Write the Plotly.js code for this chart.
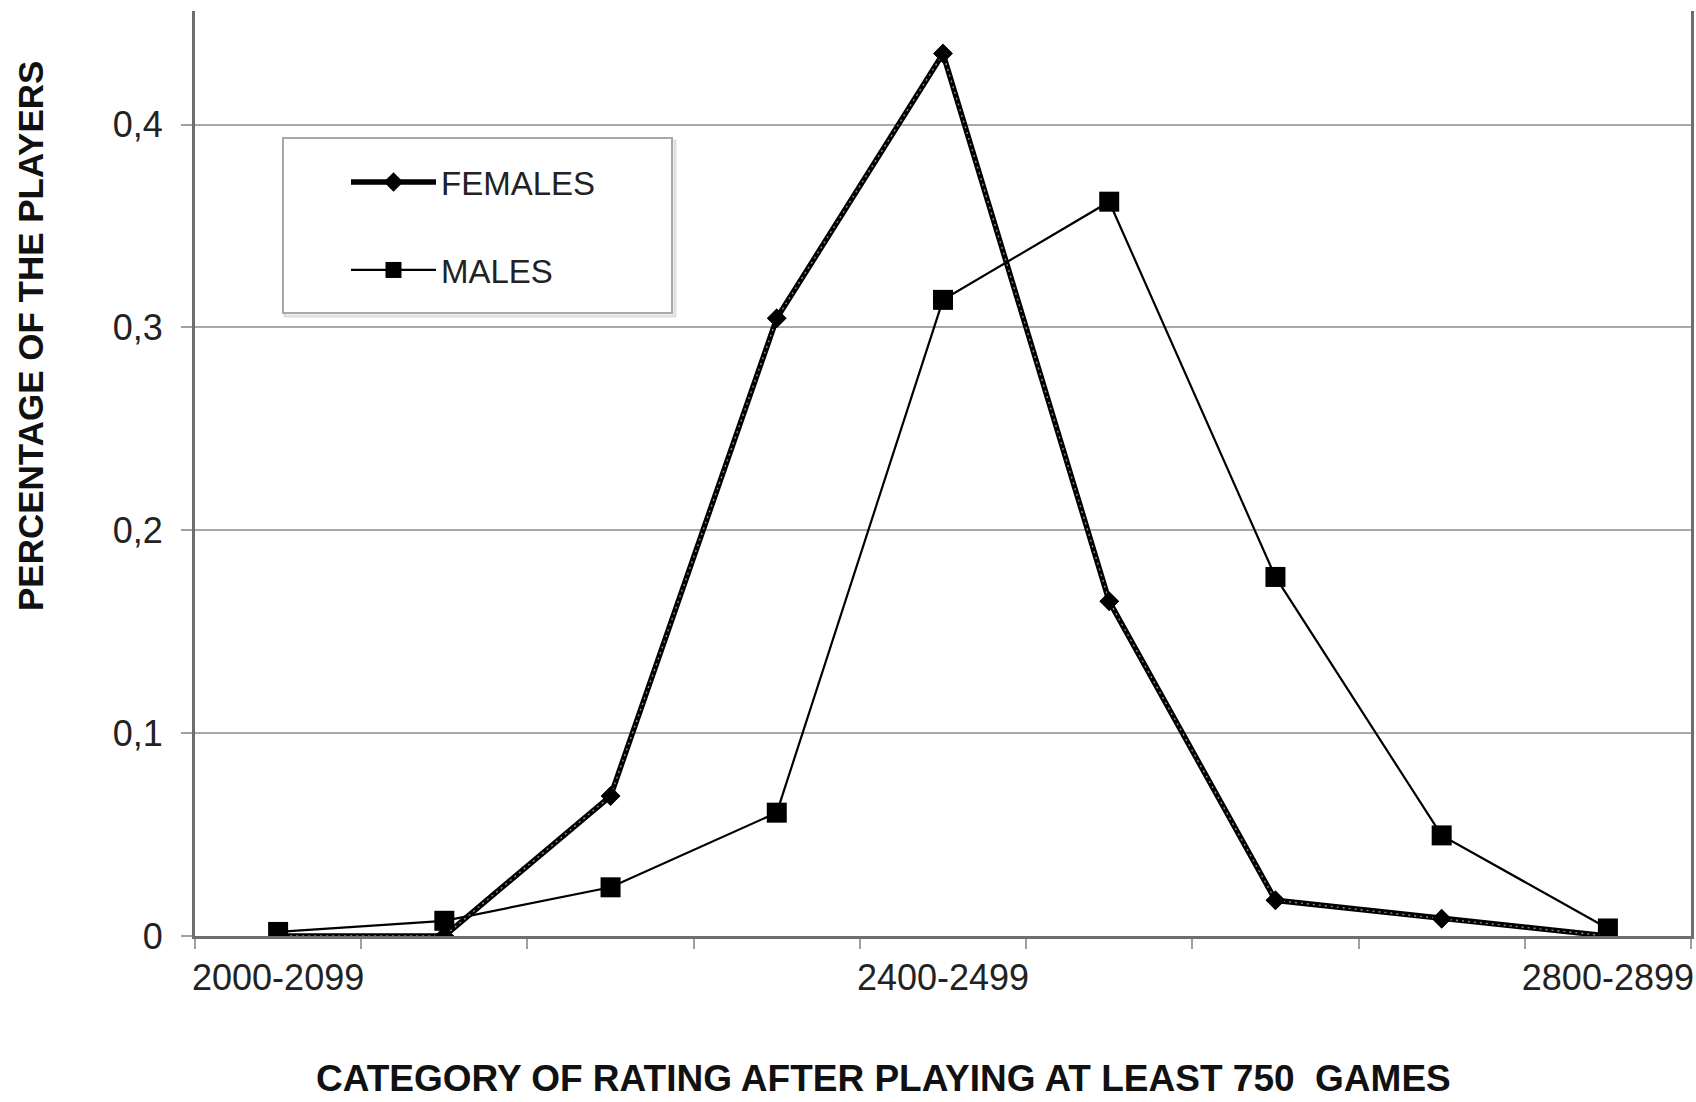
<!DOCTYPE html>
<html>
<head>
<meta charset="utf-8">
<script src="https://cdn.plot.ly/plotly-3.0.1.min.js"></script>
<style>
  html, body { margin: 0; padding: 0; background: #ffffff; }
  #chart { width: 1696px; height: 1102px; }
</style>
</head>
<body>
<div id="chart"></div>
<script>
// ---- data ----
const categories = ['2000-2099','2100-2199','2200-2299','2300-2399','2400-2499','2500-2599','2600-2699','2700-2799','2800-2899'];
const xTickText = ['2000-2099','','','','2400-2499','','','','2800-2899'];
const females = [0, 0, 0.069, 0.3045, 0.435, 0.165, 0.0176, 0.0085, 0];
const males = [0.002, 0.0075, 0.024, 0.0608, 0.3136, 0.362, 0.177, 0.0496, 0.0037];
const yTickVals = [0, 0.1, 0.2, 0.3, 0.4];
const yTickText = ['0', '0,1', '0,2', '0,3', '0,4'];
const seriesNames = ['FEMALES', 'MALES'];
const yTitle = 'PERCENTAGE OF THE PLAYERS';
const xTitle = 'CATEGORY OF RATING AFTER PLAYING AT LEAST 750&nbsp;&nbsp;GAMES';

const FONT = 'Liberation Sans, Arial, Helvetica, sans-serif';

const traces = [
  {
    x: categories, y: males, name: seriesNames[1], type: 'scatter', mode: 'lines+markers',
    line: { color: '#000000', width: 2.2 },
    marker: { symbol: 'square', size: 20, color: '#000000' },
    legend: 'legend2'
  },
  {
    x: categories, y: females, name: seriesNames[0], type: 'scatter', mode: 'lines+markers',
    line: { color: '#000000', width: 5.5 },
    marker: { symbol: 'diamond', size: 15, color: '#000000' },
    legend: 'legend'
  },
  {
    x: categories, y: females, name: seriesNames[0], type: 'scatter', mode: 'lines',
    line: { color: '#8a8a8a', width: 1.4, dash: '2px,4px' },
    showlegend: false, hoverinfo: 'skip'
  },
  {
    x: categories, y: females, name: seriesNames[0], type: 'scatter', mode: 'markers',
    marker: { symbol: 'diamond', size: 15, color: '#000000' },
    showlegend: false, hoverinfo: 'skip'
  }
];

const L = 195, R = 5, T = 11, B = 166;
const W = 1696, H = 1102;
const pw = W - L - R, ph = H - T - B;
const px = v => (v - L) / pw;
const py = v => (H - B - v) / ph;

const layout = {
  width: W, height: H,
  margin: { l: L, r: R, t: T, b: B, pad: 0 },
  paper_bgcolor: '#ffffff', plot_bgcolor: '#ffffff',
  font: { family: FONT, color: '#222222', size: 33 },
  showlegend: true,
  xaxis: {
    type: 'category', range: [-0.5, 8.5],
    tickmode: 'array', tickvals: categories, ticktext: xTickText,
    tickson: 'boundaries', ticks: 'outside', ticklen: 10, tickwidth: 2, tickcolor: '#a0a0a0',
    tickangle: 0, automargin: false,
    showgrid: false, zeroline: false,
    showline: true, linecolor: '#6e6e6e', linewidth: 3,
    tickfont: { family: FONT, size: 36, color: '#222222' },
    ticklabelstandoff: 8,
    fixedrange: true
  },
  yaxis: {
    range: [0, 0.456],
    tickmode: 'array', tickvals: yTickVals, ticktext: yTickText,
    ticks: 'outside', ticklen: 11, tickwidth: 2, tickcolor: '#a0a0a0',
    showgrid: true, gridcolor: '#a8a8a8', gridwidth: 2,
    zeroline: false, automargin: false,
    showline: true, linecolor: '#6e6e6e', linewidth: 3, mirror: true,
    tickfont: { family: FONT, size: 36, color: '#222222' },
    ticklabelstandoff: 11,
    fixedrange: true
  },
  legend: {
    x: px(346), y: py(182), xanchor: 'left', yanchor: 'middle',
    bgcolor: 'rgba(0,0,0,0)', borderwidth: 0,
    itemwidth: 85, font: { family: FONT, size: 33, color: '#222222' }
  },
  legend2: {
    x: px(346), y: py(270), xanchor: 'left', yanchor: 'middle',
    bgcolor: 'rgba(0,0,0,0)', borderwidth: 0,
    itemwidth: 85, font: { family: FONT, size: 33, color: '#222222' }
  },
  shapes: [
    { type: 'rect', xref: 'paper', yref: 'paper', layer: 'below',
      x0: px(285), x1: px(675), y0: py(316), y1: py(141),
      line: { color: '#e0e0e0', width: 3 }, fillcolor: 'rgba(0,0,0,0)' },
    { type: 'rect', xref: 'paper', yref: 'paper', layer: 'below',
      x0: px(283), x1: px(672), y0: py(313), y1: py(138),
      line: { color: '#a8a8a8', width: 2 }, fillcolor: '#ffffff' }
  ],
  annotations: [
    { text: '<b>' + yTitle + '</b>', xref: 'paper', yref: 'paper',
      x: px(31), y: py(336), xanchor: 'center', yanchor: 'middle', textangle: -90,
      showarrow: false, font: { family: FONT, size: 35, color: '#111111' } },
    { text: '<b>' + xTitle + '</b>', xref: 'paper', yref: 'paper',
      x: px(883), y: py(1101), xanchor: 'center', yanchor: 'bottom',
      showarrow: false, font: { family: FONT, size: 37, color: '#111111' } }
  ]
};

Plotly.newPlot('chart', traces, layout, { displayModeBar: false, staticPlot: true });
</script>
</body>
</html>
